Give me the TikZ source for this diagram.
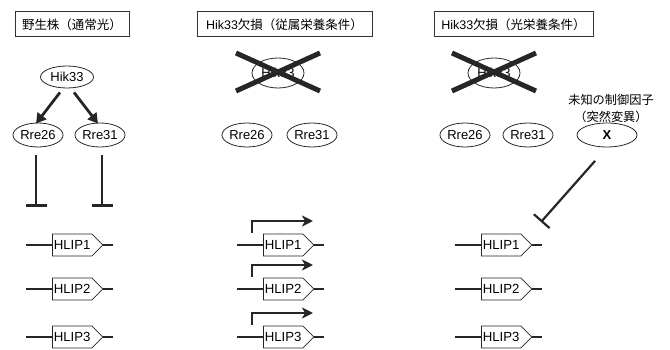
\documentclass[tikz,border=0pt]{standalone}
\usepackage{fontspec}
\setmainfont{Liberation Sans}
\newfontfamily\jp{Noto Sans CJK JP}
\usetikzlibrary{arrows.meta,shapes.geometric,shapes.symbols}
\begin{document}
\begin{tikzpicture}[x=1pt,y=-1pt,
  title/.style={draw=black!80, line width=1pt, minimum height=25pt, inner sep=0pt, font=\fontsize{12.5}{14}\selectfont},
  prot/.style={ellipse, draw=black!85, line width=0.8pt, minimum width=50pt, minimum height=24pt, inner sep=0pt, font=\fontsize{13}{14}\selectfont},
  gene/.style={signal, signal to=east, draw=black!85, line width=0.8pt, minimum height=22pt, inner xsep=1.4pt, inner ysep=0pt, font=\fontsize{13.2}{14}\selectfont, fill=white},
  dna/.style={line width=2.4pt, draw=black!85},
  act/.style={line width=2.8pt, draw=black!85, fill=black!85, -{Triangle[length=10pt,width=11pt]}},
  inh/.style={line width=2.6pt, draw=black!85, -{Bar[width=21pt]}},
  prom/.style={line width=2.4pt, draw=black!85, -{Stealth[length=11pt,width=11pt,inset=3pt]}},
  cross/.style={line width=5pt, draw=black!85},
]
\useasboundingbox (0,0) rectangle (670,350);
% titles
\node[title, minimum width=114pt] (t1) at (72,24.5) {\jp 野生株（通常光）};
\node[title, minimum width=175pt] (t2) at (284.5,24.5) {Hik33{\jp 欠損（従属栄養条件）}};
\node[title, minimum width=159pt] (t3) at (513.5,24.5) {Hik33{\jp 欠損（光栄養条件）}};
% panel 1
\node[prot, minimum width=53pt, minimum height=22pt] (h1) at (67,77) {Hik33};
\node[prot] (r126) at (38,135) {Rre26};
\node[prot] (r131) at (100,135) {Rre31};
\draw[act] ([shift={(-7pt,-4pt)}]h1.south) -- ([shift={(-2pt,-1pt)}]r126.north);
\draw[act] ([shift={(7pt,-4pt)}]h1.south) -- ([shift={(-2pt,-1pt)}]r131.north);
\coordinate (e126) at (36,207);
\coordinate (e131) at (102,207);
\draw[inh] ([shift={(-2pt,-8pt)}]r126.south) -- (e126);
\draw[inh] ([shift={(2pt,-8pt)}]r131.south) -- (e131);
% panel 2
\node[prot, minimum width=52pt, minimum height=30pt] (h2) at (278,73) {Hik33};
\draw[cross] ([shift={(-42pt,20pt)}]h2.center) -- ([shift={(42pt,-18pt)}]h2.center);
\draw[cross] ([shift={(42pt,20pt)}]h2.center) -- ([shift={(-42pt,-18pt)}]h2.center);
\node[prot] (r226) at (247,135) {Rre26};
\node[prot] (r231) at (312,135) {Rre31};
% panel 3
\node[prot, minimum width=52pt, minimum height=30pt] (h3) at (494,73) {Hik33};
\draw[cross] ([shift={(-42pt,20pt)}]h3.center) -- ([shift={(42pt,-18pt)}]h3.center);
\draw[cross] ([shift={(42pt,20pt)}]h3.center) -- ([shift={(-42pt,-18pt)}]h3.center);
\node[prot] (r326) at (465,135) {Rre26};
\node[prot] (r331) at (528,135) {Rre31};
\node[prot, minimum width=60pt, font=\bfseries\fontsize{13}{14}\selectfont] (xn) at (607,135) {X};
\node[align=center, font=\jp\fontsize{12.2}{17}\selectfont] (lab) at (611,108) {未知の制御因子\\（突然変異）};
\coordinate (xe) at (541,222);
\draw[inh, line width=2.2pt, shorten <=18pt] (xn.south) -- (xe);
% genes
\foreach \p/\x in {1/52, 2/263, 3/481} {
  \foreach \r/\y in {1/245, 2/289, 3/337} {
    \node[gene, anchor=west] (g\p\r) at (\x,\y) {HLIP\r};
    \draw[dna] (g\p\r.west) -- ++(-26,0);
    \draw[dna] (g\p\r.east) -- ++(10,0);
  }
}
\foreach \r in {1,2,3} {
  \draw[prom] ([shift={(-11pt,12pt)}]g2\r.west) -- ++(0,-12) -- ++(61,0);
}
\end{tikzpicture}
\end{document}
